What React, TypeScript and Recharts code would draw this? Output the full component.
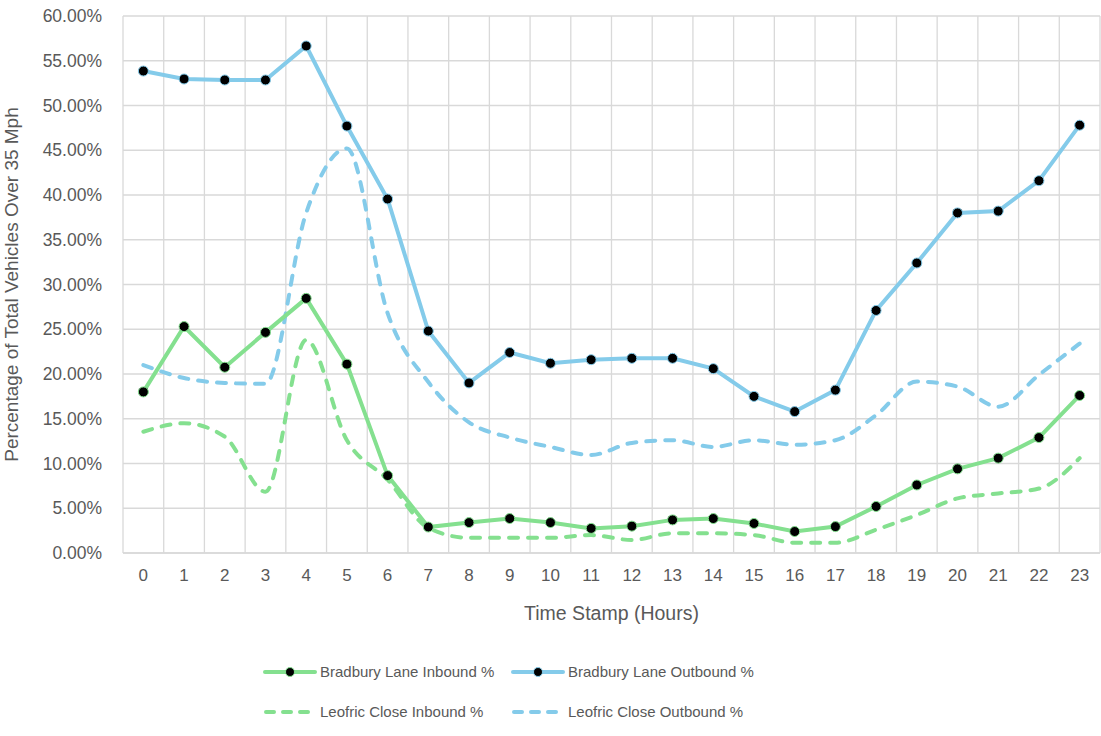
import React from "react";
import { CartesianGrid, Line, LineChart, XAxis, YAxis } from "recharts";

const hours = [0, 1, 2, 3, 4, 5, 6, 7, 8, 9, 10, 11, 12, 13, 14, 15, 16, 17, 18, 19, 20, 21, 22, 23];

const bradburyIn = [18.0, 25.3, 20.75, 24.65, 28.45, 21.1, 8.65, 2.9, 3.4, 3.85, 3.4, 2.75, 3.0, 3.7, 3.85, 3.3, 2.4, 2.95, 5.2, 7.6, 9.4, 10.6, 12.9, 17.6];
const bradburyOut = [53.85, 52.96, 52.85, 52.85, 56.65, 47.7, 39.55, 24.8, 19.0, 22.4, 21.2, 21.6, 21.75, 21.75, 20.6, 17.5, 15.8, 18.2, 27.1, 32.4, 38.0, 38.2, 41.6, 47.8];
const leofricIn = [13.55, 14.5, 13.0, 6.85, 23.8, 12.6, 8.2, 2.8, 1.7, 1.7, 1.7, 2.0, 1.45, 2.2, 2.2, 2.0, 1.15, 1.15, 2.6, 4.25, 6.1, 6.65, 7.2, 10.6];
const leofricOut = [21.0, 19.55, 19.0, 18.9, 38.0, 45.2, 26.8, 19.1, 14.6, 12.9, 11.85, 10.95, 12.3, 12.6, 11.85, 12.6, 12.1, 12.6, 15.4, 19.15, 18.6, 16.35, 19.9, 23.4];

const yTicks = [0, 5, 10, 15, 20, 25, 30, 35, 40, 45, 50, 55, 60];
const gridBounds = [-0.5, 0.5, 1.5, 2.5, 3.5, 4.5, 5.5, 6.5, 7.5, 8.5, 9.5, 10.5, 11.5, 12.5, 13.5, 14.5, 15.5, 16.5, 17.5, 18.5, 19.5, 20.5, 21.5, 22.5, 23.5];

const data = hours.map((h, i) => ({
  hour: h,
  bIn: bradburyIn[i],
  bOut: bradburyOut[i],
  lIn: leofricIn[i],
  lOut: leofricOut[i],
}));

const GREEN = "#84e08f";
const BLUE = "#84cbea";
const TEXT = "#595959";
const FONT = "'Liberation Sans', Arial, sans-serif";

function LegendItem({ color, dashed, label, width }: { color: string; dashed?: boolean; label: string; width: number }) {
  return (
    <div style={{ display: "flex", alignItems: "center", width, flexShrink: 0, whiteSpace: "nowrap" }}>
      <svg width={56} height={14} style={{ marginRight: 2, flexShrink: 0 }}>
        {dashed ? (
          <line x1={4} y1={7} x2={52} y2={7} stroke={color} strokeWidth={4} strokeDasharray="8 9" strokeLinecap="round" />
        ) : (
          <>
            <line x1={3} y1={7} x2={53} y2={7} stroke={color} strokeWidth={4} strokeLinecap="round" />
            <circle cx={28} cy={7} r={4.5} fill="#000" stroke={color} strokeWidth={1} />
          </>
        )}
      </svg>
      <span>{label}</span>
    </div>
  );
}

function gridX(props: any) {
  const sc = props?.xAxis?.scale;
  if (typeof sc === "function") return gridBounds.map((b) => sc(b));
  if (sc && typeof sc.map === "function") return gridBounds.map((b) => sc.map(b));
  const o = props.offset;
  return gridBounds.map((_, i) => o.left + (i * o.width) / 24);
}

export default function App() {
  return (
    <div style={{ position: "relative", width: 1101, height: 736, fontFamily: FONT, background: "#fff" }}>
      <style>{`body{margin:0}`}</style>
      <LineChart width={1101} height={640} data={data} margin={{ top: 16, right: 1, left: 0, bottom: 0 }}>
        <CartesianGrid stroke="#d9d9d9" strokeWidth={1.3} verticalCoordinatesGenerator={gridX} />
        <XAxis
          dataKey="hour"
          type="number"
          domain={[-0.5, 23.5]}
          ticks={hours}
          interval={0}
          height={87}
          tickSize={0}
          tickMargin={16}
          axisLine={{ stroke: "#d9d9d9", strokeWidth: 1.3 }}
          tick={{ fill: TEXT, fontSize: 17, fontFamily: FONT }}
          label={{ value: "Time Stamp (Hours)", position: "insideBottom", offset: 20, fill: TEXT, fontSize: 19.5, fontFamily: FONT }}
        />
        <YAxis
          type="number"
          domain={[0, 60]}
          ticks={yTicks}
          width={123}
          tickSize={0}
          tickMargin={21}
          axisLine={false}
          tickFormatter={(v: number) => `${v.toFixed(2)}%`}
          tick={{ fill: TEXT, fontSize: 17.5, fontFamily: FONT }}
          label={{
            value: "Percentage of Total Vehicles Over 35 Mph",
            angle: -90,
            position: "insideLeft",
            offset: 11,
            style: { textAnchor: "middle" },
            fill: TEXT,
            fontSize: 19,
            fontFamily: FONT,
          }}
        />
        <Line type="monotone" dataKey="lIn" stroke={GREEN} strokeWidth={4} strokeDasharray="9 10" strokeLinecap="round" dot={false} activeDot={false} isAnimationActive={false} />
        <Line type="monotone" dataKey="lOut" stroke={BLUE} strokeWidth={4} strokeDasharray="9 10" strokeLinecap="round" dot={false} activeDot={false} isAnimationActive={false} />
        <Line type="linear" dataKey="bIn" stroke={GREEN} strokeWidth={4} dot={{ r: 5, fill: "#000", stroke: GREEN, strokeWidth: 1 }} activeDot={false} isAnimationActive={false} />
        <Line type="linear" dataKey="bOut" stroke={BLUE} strokeWidth={4} dot={{ r: 5, fill: "#000", stroke: BLUE, strokeWidth: 1 }} activeDot={false} isAnimationActive={false} />
      </LineChart>
      <div style={{ position: "absolute", left: 262, top: 660, color: TEXT, fontSize: 15, lineHeight: "24px" }}>
        <div style={{ display: "flex", height: 24 }}>
          <LegendItem width={248} color={GREEN} label="Bradbury Lane Inbound %" />
          <LegendItem width={300} color={BLUE} label="Bradbury Lane Outbound %" />
        </div>
        <div style={{ display: "flex", height: 24, marginTop: 16 }}>
          <LegendItem width={248} color={GREEN} dashed label="Leofric Close Inbound %" />
          <LegendItem width={300} color={BLUE} dashed label="Leofric Close Outbound %" />
        </div>
      </div>
    </div>
  );
}
